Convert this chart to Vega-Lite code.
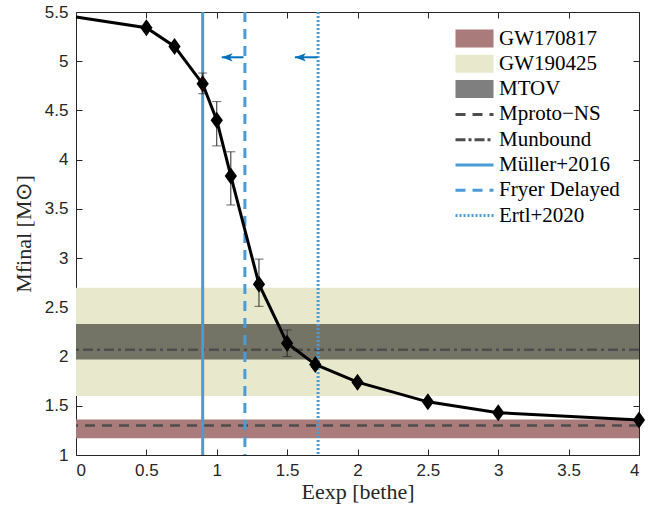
{
  "$schema": "https://vega.github.io/schema/vega-lite/v6.json",
  "width": 563,
  "height": 443,
  "autosize": {"type": "none"},
  "padding": {"left": 76, "top": 12, "right": 15, "bottom": 59},
  "background": "white",
  "config": {
    "view": {"stroke": "#262626", "strokeWidth": 1},
    "axis": {
      "labelFont": "Liberation Sans",
      "labelFontSize": 17,
      "labelColor": "#262626",
      "titleFont": "Liberation Serif",
      "titleFontSize": 22,
      "titleFontWeight": "normal",
      "titleColor": "#262626",
      "tickColor": "#262626",
      "tickSize": -6,
      "domain": false,
      "grid": false,
      "format": "~g"
    }
  },
  "datasets": {
    "curve": [
      {"e": 0, "m": 5.45, "mk": 0},
      {"e": 0.5, "m": 5.34, "mk": 1},
      {"e": 0.7, "m": 5.15, "mk": 1},
      {"e": 0.9, "m": 4.77, "lo": 4.67, "hi": 4.88, "mk": 1},
      {"e": 1.0, "m": 4.4, "lo": 4.14, "hi": 4.59, "mk": 1},
      {"e": 1.1, "m": 3.835, "lo": 3.54, "hi": 4.08, "mk": 1},
      {"e": 1.3, "m": 2.735, "lo": 2.51, "hi": 2.99, "mk": 1},
      {"e": 1.5, "m": 2.135, "lo": 2.0, "hi": 2.27, "mk": 1},
      {"e": 1.7, "m": 1.92, "lo": 1.89, "hi": 1.95, "mk": 1},
      {"e": 2.0, "m": 1.74, "mk": 1},
      {"e": 2.5, "m": 1.54, "mk": 1},
      {"e": 3.0, "m": 1.43, "mk": 1},
      {"e": 4.0, "m": 1.355, "mk": 1}
    ],
    "bands": [
      {"series": "GW170817", "lo": 1.17, "hi": 1.36},
      {"series": "GW190425", "lo": 1.6, "hi": 2.7},
      {"series": "MTOV", "lo": 1.97, "hi": 2.33}
    ],
    "hlines": [
      {"series": "Mproto−NS", "m": 1.3},
      {"series": "Munbound", "m": 2.07}
    ],
    "vlines": [
      {"series": "Müller+2016", "e": 0.9},
      {"series": "Fryer Delayed", "e": 1.2},
      {"series": "Ertl+2020", "e": 1.72}
    ],
    "arrows": [
      {"e": 1.19, "e2": 1.035, "m": 5.04},
      {"e": 1.715, "e2": 1.555, "m": 5.04}
    ]
  },
  "resolve": {"axis": {"x": "independent", "y": "independent"}},
  "layer": [
    {
      "data": {"name": "bands"},
      "mark": {"type": "rect"},
      "encoding": {
        "x": {"value": 0},
        "x2": {"value": "width"},
        "y": {"field": "lo", "type": "quantitative", "scale": {"domain": [1, 5.5], "nice": false, "zero": false}, "axis": null},
        "y2": {"field": "hi"},
        "fillOpacity": {"condition": {"test": "datum.series === 'MTOV'", "value": 0.5}, "value": 1},
        "color": {
          "field": "series",
          "type": "nominal",
          "scale": {
            "domain": ["GW170817", "GW190425", "MTOV", "Mproto−NS", "Munbound", "Müller+2016", "Fryer Delayed", "Ertl+2020"],
            "range": ["#a97b7b", "#e8e9cc", "#000000", "#4d4d4d", "#4d4d4d", "#4a9bd6", "#4a9bd6", "#4a9bd6"]
          },
          "legend": {
            "title": null,
            "orient": "none",
            "legendX": 388,
            "legendY": 16,
            "padding": 0,
            "symbolSize": 400,
            "labelFont": "Liberation Serif",
            "labelFontSize": 21,
            "labelColor": "#000000",
            "labelOffset": 14,
            "rowPadding": 3.3,
            "encode": {
              "symbols": {
                "update": {
                  "shape": {"signal": "indexof(['GW170817','GW190425','MTOV'], datum.value) >= 0 ? 'M-1.9,-0.9H1.9V0.9H-1.9Z' : 'M-1.9,0H1.9'"},
                  "fill": {"signal": "indexof(['GW170817','GW190425','MTOV'], datum.value) >= 0 ? scale('color', datum.value) : 'transparent'"},
                  "fillOpacity": {"signal": "datum.value === 'MTOV' ? 0.5 : 1"},
                  "stroke": {"signal": "indexof(['GW170817','GW190425','MTOV'], datum.value) >= 0 ? 'transparent' : scale('color', datum.value)"},
                  "strokeWidth": {"signal": "indexof(['GW170817','GW190425','MTOV'], datum.value) >= 0 ? 0 : 3"},
                  "strokeDash": {"signal": "(datum.value === 'Mproto−NS' || datum.value === 'Fryer Delayed') ? [10,7] : datum.value === 'Munbound' ? [10,3,3,3] : datum.value === 'Ertl+2020' ? [2,2] : [1,0]"},
                  "opacity": {"value": 1}
                }
              }
            }
          }
        }
      }
    },
    {
      "data": {"name": "hlines"},
      "transform": [{"filter": "datum.series === 'Mproto−NS'"}],
      "mark": {"type": "rule", "color": "#4d4d4d", "strokeWidth": 2.5, "strokeDash": [10, 7]},
      "encoding": {"y": {"field": "m", "type": "quantitative", "axis": null}}
    },
    {
      "data": {"name": "hlines"},
      "transform": [{"filter": "datum.series === 'Munbound'"}],
      "mark": {"type": "rule", "color": "#4d4d4d", "strokeWidth": 2.5, "strokeDash": [10, 4, 3, 4]},
      "encoding": {"y": {"field": "m", "type": "quantitative", "axis": null}}
    },
    {
      "data": {"name": "vlines"},
      "transform": [{"filter": "datum.series === 'Müller+2016'"}],
      "mark": {"type": "rule", "color": "#4a9bd6", "strokeWidth": 3},
      "encoding": {"x": {"field": "e", "type": "quantitative", "axis": null}}
    },
    {
      "data": {"name": "vlines"},
      "transform": [{"filter": "datum.series === 'Fryer Delayed'"}],
      "mark": {"type": "rule", "color": "#4a9bd6", "strokeWidth": 3, "strokeDash": [10, 7]},
      "encoding": {"x": {"field": "e", "type": "quantitative", "axis": null}}
    },
    {
      "data": {"name": "vlines"},
      "transform": [{"filter": "datum.series === 'Ertl+2020'"}],
      "mark": {"type": "rule", "color": "#4a9bd6", "strokeWidth": 3, "strokeDash": [2, 2]},
      "encoding": {"x": {"field": "e", "type": "quantitative", "axis": null}}
    },
    {
      "data": {"name": "arrows"},
      "mark": {"type": "rule", "color": "#0072BD", "strokeWidth": 2},
      "encoding": {
        "x": {"field": "e", "type": "quantitative", "axis": null},
        "x2": {"field": "e2"},
        "y": {"field": "m", "type": "quantitative", "axis": null}
      }
    },
    {
      "data": {"name": "arrows"},
      "mark": {"type": "point", "shape": "M0,0L2,-0.75L1.5,0L2,0.75Z", "filled": true, "color": "#0072BD", "size": 120, "opacity": 1},
      "encoding": {
        "x": {"field": "e2", "type": "quantitative", "axis": null},
        "y": {"field": "m", "type": "quantitative", "axis": null}
      }
    },
    {
      "data": {"name": "curve"},
      "transform": [{"filter": "isValid(datum.lo)"}],
      "mark": {"type": "rule", "color": "#262626", "strokeWidth": 1},
      "encoding": {
        "x": {"field": "e", "type": "quantitative", "axis": null},
        "y": {"field": "lo", "type": "quantitative", "axis": null},
        "y2": {"field": "hi"}
      }
    },
    {
      "data": {"name": "curve"},
      "transform": [{"filter": "isValid(datum.lo)"}],
      "mark": {"type": "tick", "color": "#262626", "orient": "horizontal", "size": 9, "thickness": 1},
      "encoding": {
        "x": {"field": "e", "type": "quantitative", "axis": null},
        "y": {"field": "lo", "type": "quantitative", "axis": null}
      }
    },
    {
      "data": {"name": "curve"},
      "transform": [{"filter": "isValid(datum.hi)"}],
      "mark": {"type": "tick", "color": "#262626", "orient": "horizontal", "size": 9, "thickness": 1},
      "encoding": {
        "x": {"field": "e", "type": "quantitative", "axis": null},
        "y": {"field": "hi", "type": "quantitative", "axis": null}
      }
    },
    {
      "data": {"name": "curve"},
      "mark": {"type": "line", "color": "#000000", "strokeWidth": 3},
      "encoding": {
        "x": {
          "field": "e",
          "type": "quantitative",
          "scale": {"domain": [0, 4], "nice": false, "zero": false},
          "axis": {"orient": "bottom", "values": [0, 0.5, 1, 1.5, 2, 2.5, 3, 3.5, 4], "labelPadding": 13, "title": "Eexp [bethe]", "titlePadding": 3}
        },
        "y": {
          "field": "m",
          "type": "quantitative",
          "axis": {"orient": "left", "values": [1, 1.5, 2, 2.5, 3, 3.5, 4, 4.5, 5, 5.5], "labelPadding": 14, "title": "Mfinal [M⊙]", "titlePadding": 9}
        }
      }
    },
    {
      "data": {"name": "curve"},
      "transform": [{"filter": "datum.mk === 1"}],
      "mark": {"type": "point", "shape": "M0,-1L0.72,0L0,1L-0.72,0Z", "filled": true, "color": "#000000", "size": 289, "opacity": 1},
      "encoding": {
        "x": {"field": "e", "type": "quantitative", "axis": {"orient": "top", "values": [0, 0.5, 1, 1.5, 2, 2.5, 3, 3.5, 4], "labels": false, "title": null}},
        "y": {"field": "m", "type": "quantitative", "axis": {"orient": "right", "values": [1, 1.5, 2, 2.5, 3, 3.5, 4, 4.5, 5, 5.5], "labels": false, "title": null}}
      }
    }
  ]
}
